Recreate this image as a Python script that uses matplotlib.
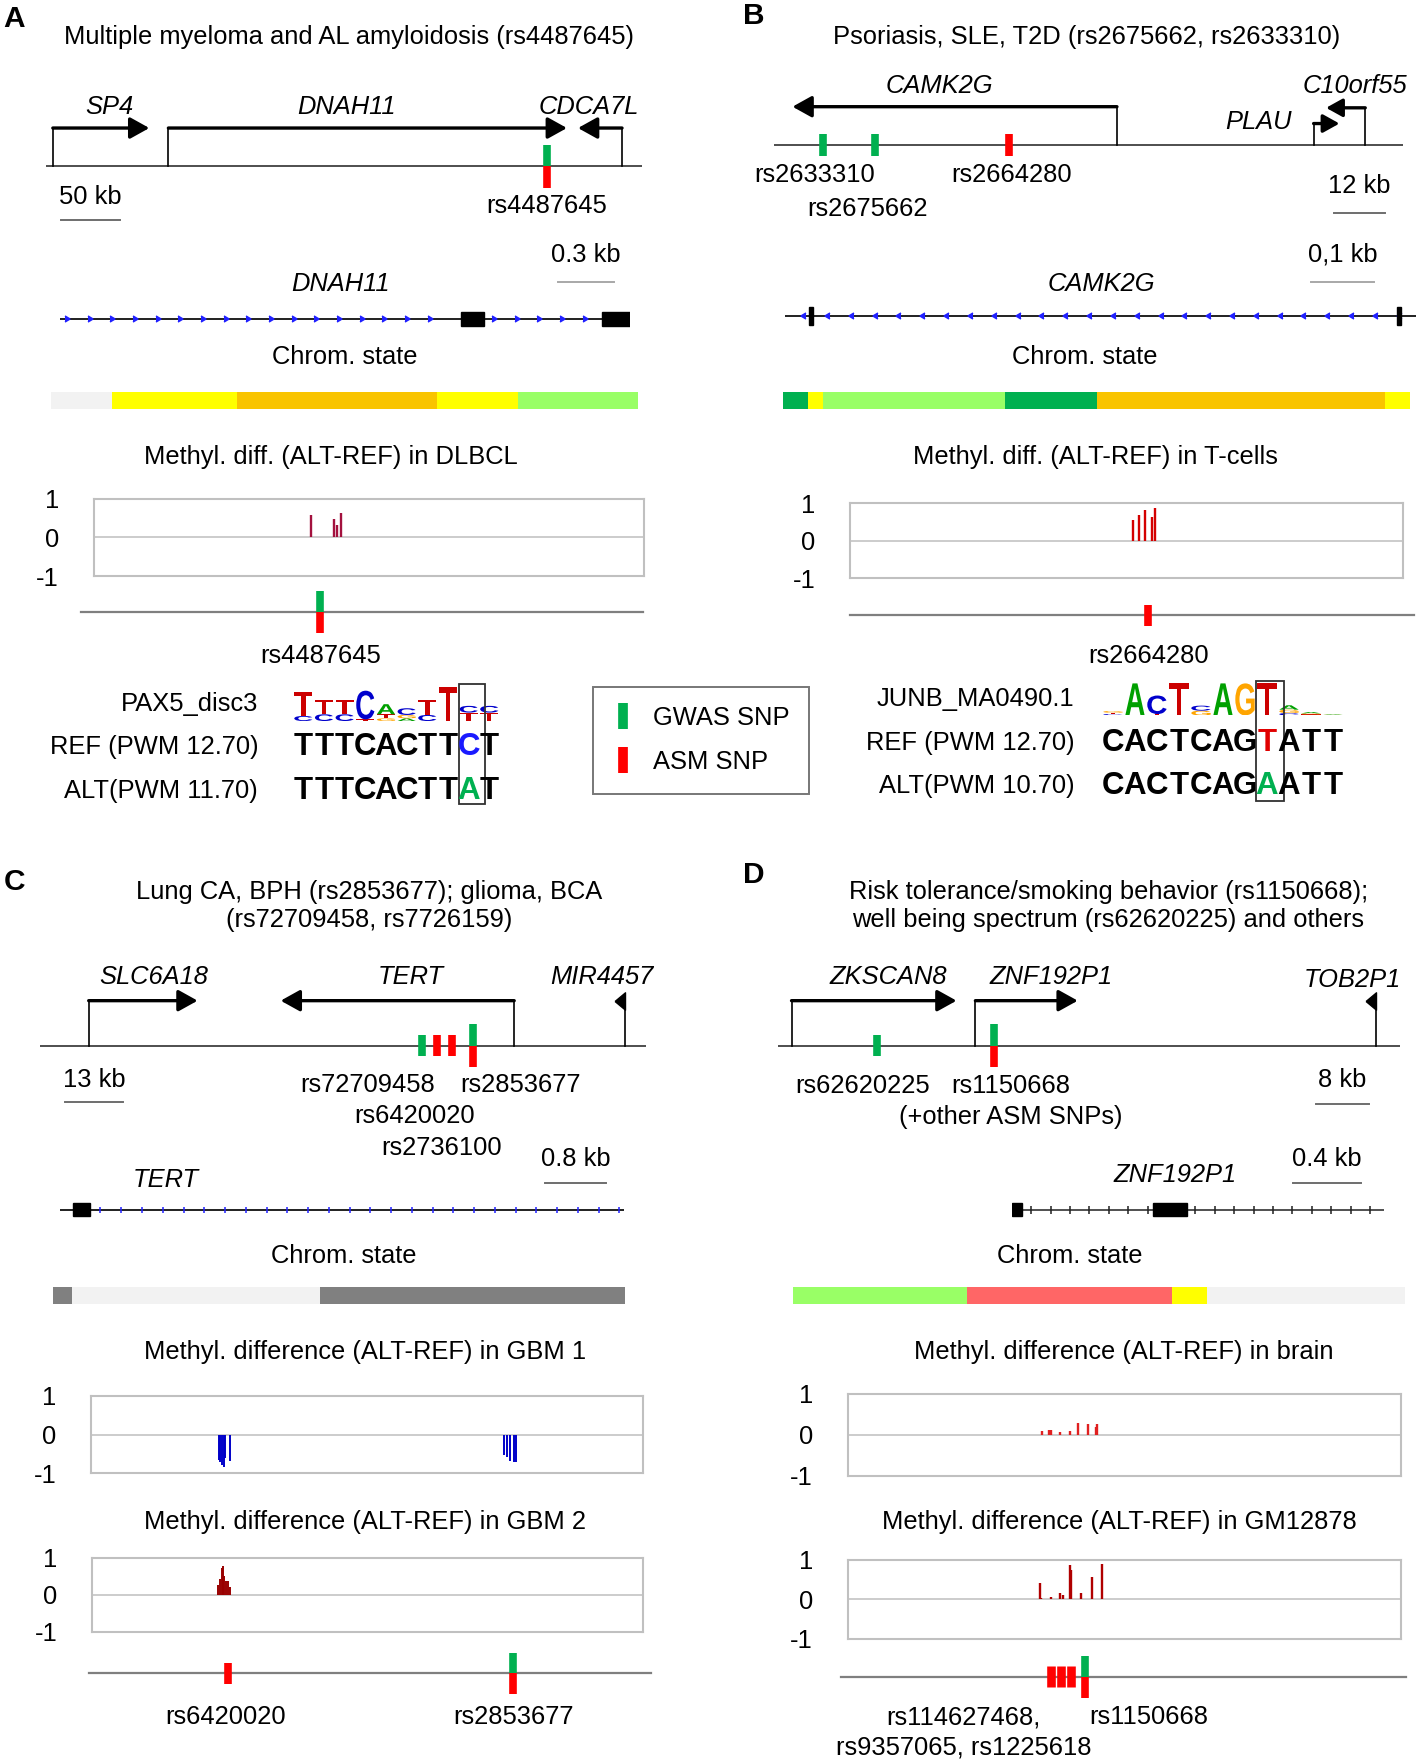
# Genome-browser style summary of four ASM / GWAS loci (panels A-D)
import numpy as np
import matplotlib
matplotlib.use("Agg")
import matplotlib.pyplot as plt
from matplotlib.textpath import TextPath
from matplotlib.patches import PathPatch, Rectangle
from matplotlib.font_manager import FontProperties
from matplotlib.transforms import Affine2D
from matplotlib.lines import Line2D

plt.rcParams["font.family"] = ["Liberation Sans", "DejaVu Sans"]

GREEN = "#00b050"
RED = "#ff0000"
FS = 18.4

# data
# ---

# gene tracks (kb from left end of the drawn window)
A_genes = ["SP4", "DNAH11", "CDCA7L"]
A_tss = [5.7, 102.8, 484.0]
A_tes = [86.8, 437.7, 447.0]
A_gene_lab = [52.8, 252.8, 455.7]
A_snp = [420.8]
A_snp_kind = ["both"]
A_snp_names = ["rs4487645"]

B_genes = ["CAMK2G", "PLAU", "C10orf55"]
B_tss = [79.8, 125.5, 137.5]
B_tes = [4.4, 131.5, 128.4]
B_gene_lab = [38.6, 112.7, 135.1]
B_snp = [11.5, 23.5, 54.8]
B_snp_kind = ["gwas", "gwas", "asm"]
B_snp_names = ["rs2633310", "rs2675662", "rs2664280"]

C_genes = ["SLC6A18", "TERT", "MIR4457"]
C_tss = [10.75, 105.5, 130.25]
C_tes = [35.0, 53.5, None]
C_gene_lab = [25.25, 82.5, 125.0]
C_snp = [85.0, 88.25, 91.75, 96.25]
C_snp_kind = ["gwas", "asm", "asm", "both"]
C_snp_names = ["rs72709458", "rs2853677", "rs6420020", "rs2736100"]

D_genes = ["ZKSCAN8", "ZNF192P1", "TOB2P1"]
D_tss = [2.0, 29.3, 88.8]
D_tes = [26.5, 44.5, None]
D_gene_lab = [16.3, 40.5, 85.3]
D_snp = [14.7, 32.0]
D_snp_kind = ["gwas", "both"]
D_snp_names = ["rs62620225", "rs1150668", "(+other ASM SNPs)"]

# transcript tracks (kb)
A_exons = [(2.145, 2.268), (2.898, 3.05)]
B_exons = [(0.0385, 0.0455), (0.9735, 0.9805)]
C_exons = [(0.175, 0.393)]
D_exons = [(0.0, 0.06), (0.84, 1.04)]

# chromatin state segments (kb edges) and colours
A_chrom_edges = [0, 0.33, 0.996, 2.064, 2.496, 3.138]
A_chrom_cols = ["#f2f2f2", "#ffff00", "#f9c400", "#ffff00", "#99ff66"]
B_chrom_edges = [0, 0.041, 0.064, 0.354, 0.5, 0.959, 0.998]
B_chrom_cols = ["#00b050", "#ffff00", "#99ff66", "#00b050", "#f9c400", "#ffff00"]
C_chrom_edges = [0, 0.247, 3.463, 7.42]
C_chrom_cols = ["#808080", "#f2f2f2", "#808080"]
D_chrom_edges = [0, 1.034, 2.255, 2.462, 3.636]
D_chrom_cols = ["#99ff66", "#ff6666", "#ffff00", "#f2f2f2"]

# methylation differences (ALT-REF), position in % of the window
A_meth_pos = [39.5, 43.6, 44.2, 45.0]
A_meth_val = [0.58, 0.47, 0.32, 0.63]
B_meth_pos = [51.1, 52.3, 53.4, 54.6, 55.1]
B_meth_val = [0.55, 0.69, 0.81, 0.62, 0.87]
C1_meth_pos = [23.1, 23.4, 23.7, 24.0, 24.3, 25.1, 74.7, 75.3, 75.9, 76.5, 77.0]
C1_meth_val = [-0.65, -0.70, -0.78, -0.83, -0.60, -0.68, -0.52, -0.57, -0.67, -0.70, -0.71]
C2_meth_pos = [22.9, 23.2, 23.5, 23.7, 24.0, 24.3, 24.6, 25.0]
C2_meth_val = [0.26, 0.43, 0.73, 0.77, 0.51, 0.38, 0.38, 0.21]
D1_meth_pos = [35.2, 36.3, 36.7, 38.3, 40.1, 41.6, 43.4, 44.8, 45.1]
D1_meth_val = [0.10, 0.12, 0.12, 0.06, 0.09, 0.28, 0.26, 0.20, 0.26]
D2_meth_pos = [34.8, 35.0, 36.8, 38.3, 38.9, 40.1, 40.4, 42.2, 44.1, 45.9]
D2_meth_val = [0.41, 0.04, 0.05, 0.16, 0.10, 0.86, 0.75, 0.15, 0.57, 0.89]

# SNPs under the methylation windows (% of window)
A_win_snp = [41.1]
A_win_kind = ["both"]
B_win_snp = [53.9]
B_win_kind = ["asm"]
C_win_snp = [24.6, 76.4]
C_win_kind = ["asm", "both"]
D_win_snp = [36.7, 38.5, 40.3, 42.9]
D_win_kind = ["asm", "asm", "asm", "both"]

# motifs: columns of (letter, relative height), bottom to top
A_logo = [
    [("C", 0.15), ("T", 0.72)],
    [("C", 0.2), ("T", 0.42)],
    [("C", 0.2), ("T", 0.42)],
    [("T", 0.05), ("C", 0.85)],
    [("G", 0.08), ("T", 0.12), ("A", 0.3)],
    [("A", 0.08), ("G", 0.1), ("C", 0.2)],
    [("C", 0.18), ("T", 0.45)],
    [("T", 1.0)],
    [("T", 0.25), ("C", 0.2)],
    [("T", 0.25), ("C", 0.2)],
]
A_ref = "TTTCACTTCT"
A_alt = "TTTCACTTAT"
A_snp_col = 8
A_motif_rows = ["PAX5_disc3", "REF (PWM 12.70)", "ALT(PWM 11.70)"]

B_logo = [
    [("C", 0.04), ("T", 0.04), ("G", 0.05)],
    [("A", 0.95)],
    [("T", 0.04), ("C", 0.55)],
    [("T", 0.95)],
    [("G", 0.14), ("C", 0.15)],
    [("A", 0.95)],
    [("G", 0.95)],
    [("T", 0.95)],
    [("C", 0.07), ("G", 0.1), ("A", 0.13)],
    [("T", 0.03), ("G", 0.03), ("A", 0.04)],
    [("G", 0.02), ("A", 0.02)],
]
B_ref = "CACTCAGTATT"
B_alt = "CACTCAGAATT"
B_snp_col = 7
B_motif_rows = ["JUNB_MA0490.1", "REF (PWM 12.70)", "ALT(PWM 10.70)"]

NUC = {"A": "#00a000", "C": "#0000cc", "G": "#ffa500", "T": "#cc0000"}


# helpers
# ---

fig = plt.figure(figsize=(14.18, 17.61), dpi=100)
W, H = 1263, 1568  # layout grid


def place(x0, y0, x1, y1, xlim, ylim, off=True):
    ax = fig.add_axes([x0 / W, 1 - y1 / H, (x1 - x0) / W, (y1 - y0) / H])
    ax.set_xlim(*xlim)
    ax.set_ylim(*ylim)
    if off:
        ax.axis("off")
    return ax


def kb_track(x0, base, kb_px, span, up, down):
    # x in kb, y in layout px above the baseline
    return place(x0, base - up, x0 + span / kb_px, base + down, (0, span), (-down, up))


def draw_genes(ax, tss, tes, heights, ms=26):
    for s, e, h in zip(tss, tes, heights):
        ax.plot([s, s], [0, h], color="k", lw=1.2)
        if e is None:  # short gene: flag only
            ax.plot(s, h, marker=[(-1.2, 0), (0, 1), (0, -1), (-1.2, 0)],
                    ms=15, color="k", ls="none")
            continue
        ax.annotate("", xy=(e, h), xytext=(s, h),
                    arrowprops=dict(arrowstyle="-|>,head_length=0.45,head_width=0.25",
                                    mutation_scale=ms, lw=2.4, color="k",
                                    shrinkA=0, shrinkB=0))


def draw_snps(ax, xs, kinds, half=9.5, lw=5.5, lw_asm=None):
    for x, k in zip(xs, kinds):
        if k == "both":
            segs = [(0, 2 * half, GREEN, lw), (-2 * half, 0, RED, lw)]
        elif k == "gwas":
            segs = [(-half, half, GREEN, lw)]
        else:
            segs = [(-half, half, RED, lw_asm or lw)]
        for y0, y1, c, w in segs:
            ax.plot([x, x], [y0, y1], color=c, lw=w, solid_capstyle="butt", zorder=3)


def scale_bar(ax, x0, length, text, ty, ly, color="#6e6e6e"):
    ax.plot([x0, x0 + length], [ly, ly], color=color, lw=1.4)
    ax.text(x0 + length / 2, ty, text, ha="center", va="center", fontsize=FS)


def transcript(ax, span, exons, ticks, marker, tcol, half=6, lcol="#202020", ms=6):
    ax.plot([0, span], [0, 0], color=lcol, lw=1.4, zorder=1)
    ax.plot(ticks, np.zeros(len(ticks)), ls="none", marker=marker, ms=ms,
            color=tcol, mew=1.1, zorder=2)
    for s, e in exons:
        ax.add_patch(Rectangle((s, -half), e - s, 2 * half, color="k", zorder=3))


def chrom_bar(x0, y0, y1, kb_px, edges, cols):
    span = edges[-1]
    ax = place(x0, y0, x0 + span / kb_px, y1, (0, span), (0, 1))
    ax.broken_barh(list(zip(edges[:-1], np.diff(edges))), (0, 1),
                   facecolors=cols, edgecolor="none")


def methyl(x0, y0, x1, y1, pos, val, color, lw=1.7):
    ax = place(x0, y0, x1, y1, (0, 100), (-1, 1), off=False)
    for sp in ax.spines.values():
        sp.set_color("#c0c0c0")
        sp.set_linewidth(1.5)
    ax.axhline(0, color="#c8c8c8", lw=1.3)
    ax.vlines(pos, 0, val, color=color, lw=lw)
    ax.set_xticks([])
    ax.set_yticks([1, 0, -1], ["1", "0", "-1"], fontsize=FS)
    ax.tick_params(axis="y", length=0, pad=25)


def snp_window(x0, x1, base, line, xs, kinds, **kw):
    ax = place(x0, base - 25, x1, base + 25, (0, 100), (-25, 25))
    ax.plot(line, [0, 0], color="#7f7f7f", lw=1.6, clip_on=False)
    draw_snps(ax, xs, kinds, half=9.3, **kw)


BOLD = FontProperties(family="Liberation Sans", weight="bold")


def letter(ax, ch, x, y, w, h, color):
    tp = TextPath((0, 0), ch, size=1, prop=BOLD)
    bb = tp.get_extents()
    tr = Affine2D().translate(-bb.x0, -bb.y0).scale(w / bb.width, h / bb.height).translate(x, y)
    ax.add_patch(PathPatch(tr.transform_path(tp), fc=color, ec="none"))


def motif(x0, cw, logo_y, rows_x, rows, cols, ref, alt, snp_col, ref_col, alt_col, y_rows):
    n = len(ref)
    lax = place(x0, logo_y[0], x0 + n * cw, logo_y[1], (0, n), (0, 1))
    for i, stack in enumerate(cols):
        y = 0
        for ch, h in stack:
            letter(lax, ch, i + 0.06, y, 0.88, h, NUC[ch])
            y += h
    sax = place(x0, y_rows[0], x0 + n * cw, y_rows[1], (0, n), (y_rows[1], y_rows[0]))
    for row_y, seq, hc in [(y_rows[2], ref, ref_col), (y_rows[3], alt, alt_col)]:
        for i, ch in enumerate(seq):
            sax.text(i + 0.5, row_y, ch, ha="center", va="center", fontsize=22.5,
                     fontweight="bold", color=hc if i == snp_col else "k")
    sax.add_patch(Rectangle((snp_col + 0.02, y_rows[0] + 4), 1.25, y_rows[1] - y_rows[0] - 8,
                            fill=False, ec="#303030", lw=1.3))
    for txt, ty in zip(rows, [sum(logo_y) / 2, y_rows[2], y_rows[3]]):
        bg.text(rows_x, ty, txt, ha="right", va="center", fontsize=FS)


def intron_ticks(start, stop, step):
    return np.arange(start, stop, step)


bg = place(0, 0, W, H, (0, W), (H, 0))

# panel letters and titles
for lab, x, y in [("A", 3, 17), ("B", 662, 14), ("C", 3, 785), ("D", 662, 779)]:
    bg.text(x, y, lab, fontsize=21.5, fontweight="bold", ha="left", va="center")
bg.text(311, 33, "Multiple myeloma and AL amyloidosis (rs4487645)", ha="center", va="center", fontsize=FS)
bg.text(968, 33, "Psoriasis, SLE, T2D (rs2675662, rs2633310)", ha="center", va="center", fontsize=FS)
bg.text(329, 806.5, "Lung CA, BPH (rs2853677); glioma, BCA\n(rs72709458, rs7726159)",
        ha="center", va="center", fontsize=FS, linespacing=1.22)
bg.text(987, 806.5, "Risk tolerance/smoking behavior (rs1150668);\nwell being spectrum (rs62620225) and others",
        ha="center", va="center", fontsize=FS, linespacing=1.22)
for x, y in [(307, 318), (966, 318), (306, 1118), (953, 1118)]:
    bg.text(x, y, "Chrom. state", ha="center", va="center", fontsize=FS)
for x, y, t in [(295, 407, "Methyl. diff. (ALT-REF) in DLBCL"),
                (976, 407, "Methyl. diff. (ALT-REF) in T-cells"),
                (325, 1204, "Methyl. difference (ALT-REF) in GBM 1"),
                (325, 1355, "Methyl. difference (ALT-REF) in GBM 2"),
                (1001, 1204, "Methyl. difference (ALT-REF) in brain"),
                (997, 1355, "Methyl. difference (ALT-REF) in GM12878")]:
    bg.text(x, y, t, ha="center", va="center", fontsize=FS)
for x, y, t in [(286, 584, "rs4487645"), (1023, 584, "rs2664280"),
                (201, 1529, "rs6420020"), (457, 1529, "rs2853677"),
                (858, 1529, "rs114627468,"), (1023, 1529, "rs1150668"),
                (858, 1556, "rs9357065, rs1225618")]:
    bg.text(x, y, t, ha="center", va="center", fontsize=FS)


# panel A
# ---
ax = kb_track(41, 148, 0.9434, 501, 68, 57)
ax.plot([0, 501], [0, 0], color="#404040", lw=1.3)
draw_genes(ax, A_tss, A_tes, [34, 34, 34])
for g, x in zip(A_genes, A_gene_lab):
    ax.text(x, 53, g, ha="center", va="center", fontsize=FS, style="italic")
draw_snps(ax, A_snp, A_snp_kind)
ax.text(A_snp[0], -35, A_snp_names[0], ha="center", va="center", fontsize=FS)
scale_bar(ax, 12.3, 50, "50 kb", -27, -48)

ax = kb_track(53, 284, 0.006, 3.05, 70, 12)
transcript(ax, 3.05, A_exons,
           np.r_[intron_ticks(0.056, 2.05, 0.1212), intron_ticks(2.338, 2.85, 0.1212)],
           5, "#2020ff", ms=4.5)
ax.text(1.5, 31, "DNAH11", ha="center", va="center", fontsize=FS, style="italic")
scale_bar(ax, 2.664, 0.3, "0.3 kb", 57, 33, color="#a8a8a8")

chrom_bar(45, 349, 364, 0.006, A_chrom_edges, A_chrom_cols)
methyl(83.5, 444, 573.6, 513, A_meth_pos, A_meth_val, "#a3113e")
snp_window(83.5, 573.6, 545, [-2.3, 99.9], A_win_snp, A_win_kind)
motif(261, 18.4, (612, 642), 230, A_motif_rows, A_logo, A_ref, A_alt, A_snp_col,
      "#1a1aff", "#00b050", (605, 720, 665, 704))

# panel B
# ---
ax = kb_track(689, 129, 0.2609, 146.3, 69, 71)
ax.plot([0, 146.3], [0, 0], color="#404040", lw=1.3)
draw_genes(ax, B_tss[:1], B_tes[:1], [34])
draw_genes(ax, B_tss[1:], B_tes[1:], [19, 33], ms=22)
for g, x, y in zip(B_genes, B_gene_lab, [52, 20, 52]):
    ax.text(x, y, g, ha="center", va="center", fontsize=FS, style="italic")
draw_snps(ax, B_snp, B_snp_kind)
for name, x, y in zip(B_snp_names, [9.65, 21.9, 55.3], [-27, -57, -27]):
    ax.text(x, y, name, ha="center", va="center", fontsize=FS)
scale_bar(ax, 130.2, 12, "12 kb", -37, -61)

ax = kb_track(699, 281, 0.001786, 1.004, 66, 12)
transcript(ax, 1.004, B_exons, intron_ticks(0.026, 1.0, 0.0379), 4, "#2020ff", half=8, ms=4.5)
ax.text(0.5037, 28, "CAMK2G", ha="center", va="center", fontsize=FS, style="italic")
scale_bar(ax, 0.8376, 0.1, "0,1 kb", 54, 30, color="#a8a8a8")

chrom_bar(697, 349, 364, 0.001786, B_chrom_edges, B_chrom_cols)
methyl(757, 448, 1250, 515, B_meth_pos, B_meth_val, "#d40000")
snp_window(757, 1250, 548, [0, 102], B_win_snp, B_win_kind)
motif(981.5, 19.6, (607, 637), 957, B_motif_rows, B_logo, B_ref, B_alt, B_snp_col,
      "#e00000", "#00b050", (602, 717, 662, 700))

# legend
handles = [Line2D([], [], ls="none", marker="|", ms=19, mew=7, color=GREEN),
           Line2D([], [], ls="none", marker="|", ms=19, mew=7, color=RED)]
leg = fig.legend(handles, ["GWAS SNP", "ASM SNP"], loc="center",
                 bbox_to_anchor=(624 / W, 1 - 659 / H), fontsize=FS, frameon=True,
                 fancybox=False, edgecolor="#555555", labelspacing=0.8,
                 borderpad=0.75, handlelength=0.9, handletextpad=0.7, borderaxespad=0)
leg.get_frame().set_linewidth(1.4)

# panel C
# ---
ax = kb_track(36, 931, 0.25, 134.75, 76, 104)
ax.plot([0, 134.75], [0, 0], color="#404040", lw=1.3)
draw_genes(ax, C_tss, C_tes, [40, 40, 40])
for g, x in zip(C_genes, C_gene_lab):
    ax.text(x, 61, g, ha="center", va="center", fontsize=FS, style="italic")
draw_snps(ax, C_snp, C_snp_kind)
for name, x, y in zip(C_snp_names, [72.75, 107, 83.25, 89.25], [-35, -35, -63, -91]):
    ax.text(x, y, name, ha="center", va="center", fontsize=FS)
scale_bar(ax, 5.5, 13, "13 kb", -31, -50)

ax = kb_track(53, 1077, 0.01455, 7.32, 52, 12)
transcript(ax, 7.32, C_exons, intron_ticks(0.531, 7.3, 0.269), "|", "#2020ff", ms=5)
ax.text(1.38, 26, "TERT", ha="center", va="center", fontsize=FS, style="italic")
scale_bar(ax, 6.286, 0.8, "0.8 kb", 45, 24)

chrom_bar(47, 1146, 1161, 0.01455, C_chrom_edges, C_chrom_cols)
methyl(81, 1243, 573, 1312, C1_meth_pos, C1_meth_val, "#0000c8", lw=1.4)
methyl(82, 1387, 573, 1453, C2_meth_pos, C2_meth_val, "#990000", lw=1.4)
snp_window(82, 573, 1490, [-0.6, 101.4], C_win_snp, C_win_kind)

# panel D
# ---
ax = kb_track(693, 931, 0.1667, 92.3, 76, 79)
ax.plot([0, 92.3], [0, 0], color="#404040", lw=1.3)
draw_genes(ax, D_tss, D_tes, [40, 40, 40])
for g, x, y in zip(D_genes, D_gene_lab, [61, 61, 58]):
    ax.text(x, y, g, ha="center", va="center", fontsize=FS, style="italic")
draw_snps(ax, D_snp, D_snp_kind)
for name, x, y in zip(D_snp_names, [12.5, 34.5, 34.5], [-36, -36, -64]):
    ax.text(x, y, name, ha="center", va="center", fontsize=FS)
scale_bar(ax, 79.8, 8, "8 kb", -31, -52)

ax = kb_track(901, 1077, 0.00667, 2.214, 52, 12)
transcript(ax, 2.214, D_exons,
           np.r_[intron_ticks(0.116, 0.82, 0.1153), intron_ticks(1.092, 2.15, 0.1153)],
           "|", "#202020", lcol="#505050", ms=6)
ax.text(0.974, 31, "ZNF192P1", ha="center", va="center", fontsize=FS, style="italic")
scale_bar(ax, 1.674, 0.4, "0.4 kb", 45, 24)

chrom_bar(706, 1146, 1161, 0.00667, D_chrom_edges, D_chrom_cols)
methyl(755, 1241, 1248, 1314, D1_meth_pos, D1_meth_val, "#e02020")
methyl(755, 1389, 1248, 1459, D2_meth_pos, D2_meth_val, "#b00000")
snp_window(755, 1248, 1493, [-1.2, 100.8], D_win_snp, D_win_kind, lw_asm=6.2)

fig.savefig("out.png", dpi=100)
